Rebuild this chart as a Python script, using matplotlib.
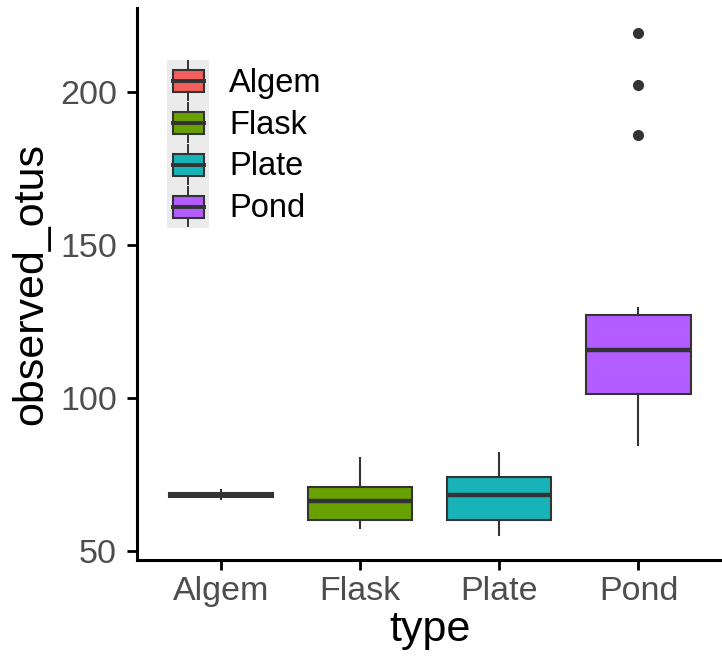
import matplotlib
matplotlib.use("Agg")
import matplotlib.pyplot as plt
from matplotlib.legend_handler import HandlerBase
from matplotlib.patches import Rectangle
from matplotlib.lines import Line2D

plt.rcParams['font.family'] = ['Liberation Sans', 'DejaVu Sans']

# data
types = ['Algem', 'Flask', 'Plate', 'Pond']
colors = ['#F25F5C', '#68A100', '#18B3B8', '#B35CFF']
med = [68.2, 66.2, 68.2, 115.6]
q1 = [67.6, 60.1, 60.1, 101.3]
q3 = [68.8, 70.8, 74.0, 127.0]
whislo = [66.8, 57.5, 55.2, 84.7]
whishi = [69.8, 80.2, 82.0, 129.2]
fliers = [[], [], [], [186.0, 202.3, 219.2]]

edge = '#333333'


class BoxHandler(HandlerBase):
    """legend key drawn like a ggplot boxplot glyph"""
    def create_artists(self, legend, orig_handle, xdescent, ydescent,
                       width, height, fontsize, trans):
        x0, y0 = -xdescent, -ydescent
        bg = Rectangle((x0, y0), width, height, fc='#EBEBEB', ec='none', transform=trans)
        bw, bh = width * 0.74, height * 0.52
        bx, by = x0 + (width - bw) / 2, y0 + (height - bh) / 2
        cx = x0 + width / 2
        box = Rectangle((bx, by), bw, bh, fc=orig_handle.get_facecolor(),
                        ec=edge, lw=1.5, transform=trans)
        w1 = Line2D([cx, cx], [y0 + 1, by], color=edge, lw=1.4, transform=trans)
        w2 = Line2D([cx, cx], [by + bh, y0 + height - 1], color=edge, lw=1.4, transform=trans)
        m = Line2D([bx, bx + bw], [by + bh / 2] * 2, color=edge, lw=2.8, transform=trans)
        return [bg, w1, w2, box, m]


fig = plt.figure(figsize=(7.22, 6.70), dpi=100)
ax = fig.add_axes([0.19, 0.164, 0.81, 0.824])

stats = []
for i in range(len(types)):
    stats.append(dict(label=types[i], med=med[i], q1=q1[i], q3=q3[i],
                      whislo=whislo[i], whishi=whishi[i], fliers=fliers[i]))

bp = ax.bxp(stats, positions=range(1, 5), widths=0.75, patch_artist=True,
            showcaps=False,
            boxprops=dict(edgecolor=edge, linewidth=1.5),
            whiskerprops=dict(color=edge, linewidth=1.5),
            medianprops=dict(color=edge, linewidth=3.2),
            flierprops=dict(marker='o', markerfacecolor=edge, markeredgecolor=edge,
                            markersize=7))
for patch, c in zip(bp['boxes'], colors):
    patch.set_facecolor(c)

ax.set_xlim(0.4, 4.6)
ax.set_ylim(47.0, 227.3)
ax.set_yticks([50, 100, 150, 200])
ax.set_xticks(range(1, 5))
ax.set_xticklabels(types)

for s in ['top', 'right']:
    ax.spines[s].set_visible(False)
for s in ['left', 'bottom']:
    ax.spines[s].set_linewidth(2.2)
    ax.spines[s].set_color('black')
ax.tick_params(axis='both', length=7, width=2.0, color='black',
               labelsize=24.5, labelcolor='#4D4D4D')
ax.tick_params(axis='y', pad=7.5)
ax.tick_params(axis='x', pad=4.5)

ax.set_xlabel('type', fontsize=31, labelpad=2)
ax.set_ylabel('observed_otus', fontsize=31, labelpad=6)

handles = bp['boxes']
leg = ax.legend(handles, types, handler_map={type(handles[0]): BoxHandler()},
                loc='upper left', bbox_to_anchor=(0.051, 0.906),
                frameon=False, fontsize=23.5, labelspacing=0.0,
                handlelength=1.3, handleheight=1.6, handletextpad=0.6,
                borderpad=0, borderaxespad=0)

fig.savefig('out.png', dpi=100)
